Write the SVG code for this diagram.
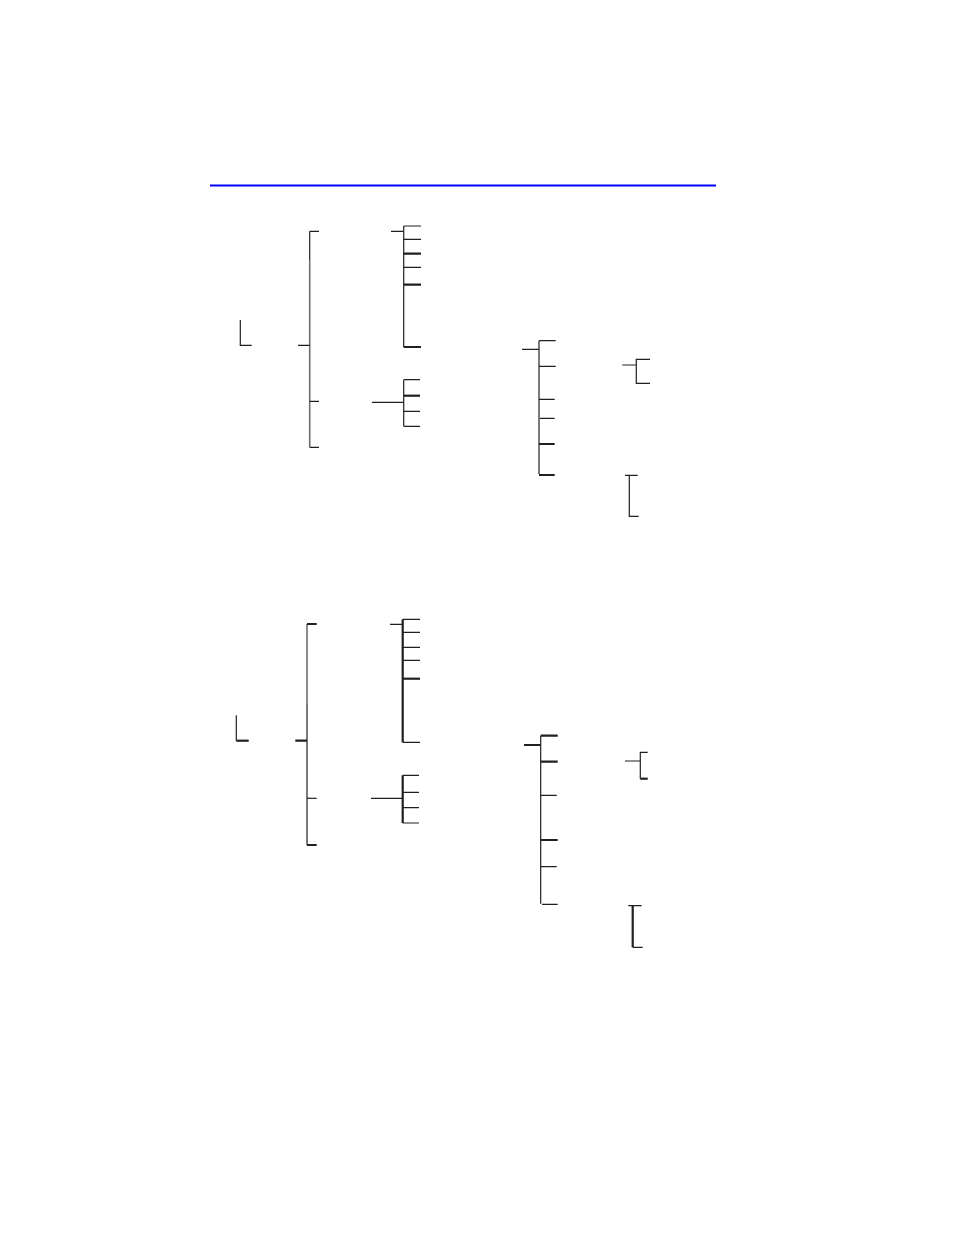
<svg xmlns="http://www.w3.org/2000/svg" width="954" height="1235" viewBox="0 0 954 1235">
<style>
.l{stroke:#231f20;stroke-width:1.2;fill:none;stroke-linecap:butt}
.t{stroke:#231f20;stroke-width:2.2;fill:none}
.g{stroke:#6d6e71;stroke-width:1.6;fill:none}
.rule{stroke:#0000ff;stroke-width:2;fill:none}
</style>
<rect width="954" height="1235" fill="#ffffff"/>
<g id="header-rule"><line class="rule" x1="210" y1="185.5" x2="716" y2="185.5"/></g>
<g id="connectors">
<!-- upper tree -->
<g id="tree1">
<path class="l" d="M240.3,320 V345.3 H251.7"/>
<line class="l" x1="309.7" y1="231.3" x2="309.7" y2="260"/>
<line class="g" x1="309.7" y1="260" x2="309.7" y2="447.3"/>
<path class="l" d="M309.7,231.3 H319 M309.7,447.3 H319 M309.7,401.3 H319 M298,345.3 H309.7"/>
<line class="l" x1="403.7" y1="226" x2="403.7" y2="347"/>
<path class="l" d="M403.7,226 H421 M403.7,239.3 H421 M403.7,267.3 H421 M391,231.3 H403.7"/>
<path class="t" d="M403.7,253.7 H421 M403.7,284.7 H421 M403.7,347 H421"/>
<line class="l" x1="403.7" y1="379.7" x2="403.7" y2="426.3"/>
<path class="l" d="M403.7,379.7 H420 M403.7,411.3 H420 M403.7,426.3 H420 M372,402.3 H403.7"/>
<path class="t" d="M403.7,395.7 H420"/>
<line class="l" x1="539" y1="340.7" x2="539" y2="474"/>
<path class="l" d="M539,340.7 H555.7 M539,366.3 H555.7 M539,399.3 H554.7 M540,418.3 H554.7 M522,349.3 H539"/>
<path class="t" d="M539,444 H554.7 M539,475 H554.7"/>
<path class="l" d="M650,359.3 H636.3 V383.3 H650 M622.3,365 H636.3"/>
<path class="l" d="M625,475.3 H637.7 M629.3,475.3 V516.3 H638.7"/>
</g>
<!-- lower tree -->
<g id="tree2">
<path class="l" d="M236.3,715.3 V740.7"/>
<path class="t" d="M236.3,740.7 H248.7"/>
<line class="g" x1="307" y1="624" x2="307" y2="704"/>
<line class="l" x1="307" y1="704" x2="307" y2="845"/>
<path class="t" d="M307,624 H316.7 M307,845 H316.7 M295.3,740.7 H307"/>
<path class="l" d="M307,798.3 H316.7"/>
<line class="t" x1="402.7" y1="619.3" x2="402.7" y2="742.3"/>
<path class="l" d="M402.7,619.3 H420 M402.7,632.3 H420 M402.7,647.3 H420 M402.7,660.3 H420 M402.7,742.3 H420 M390,624.3 H402.7"/>
<path class="t" d="M402.7,678.7 H420"/>
<line class="t" x1="402.7" y1="775.3" x2="402.7" y2="823"/>
<path class="l" d="M402.7,775.3 H419 M402.7,792.3 H419 M402.7,807.7 H419 M402.7,823 H419 M371,798.3 H402.7"/>
<line class="l" x1="540.7" y1="735.7" x2="540.7" y2="903.7"/>
<path class="t" d="M540.7,735.7 H557.7 M540.7,761.7 H557.7 M540.7,840 H557.7 M524,745 H540.7"/>
<path class="l" d="M540.7,795.3 H556.7 M540.7,866.7 H556.7 M542,904.3 H557.7"/>
<path class="l" d="M647.7,752.3 H640.3 V778.7 M625,761 H640.3"/>
<path class="t" d="M640.3,778.7 H647.7"/>
<path class="l" d="M628.3,905.7 H641.7 M632.7,947.3 H642.7"/>
<line class="t" x1="632.7" y1="905.7" x2="632.7" y2="947.3"/>
</g>
</g>
</svg>
